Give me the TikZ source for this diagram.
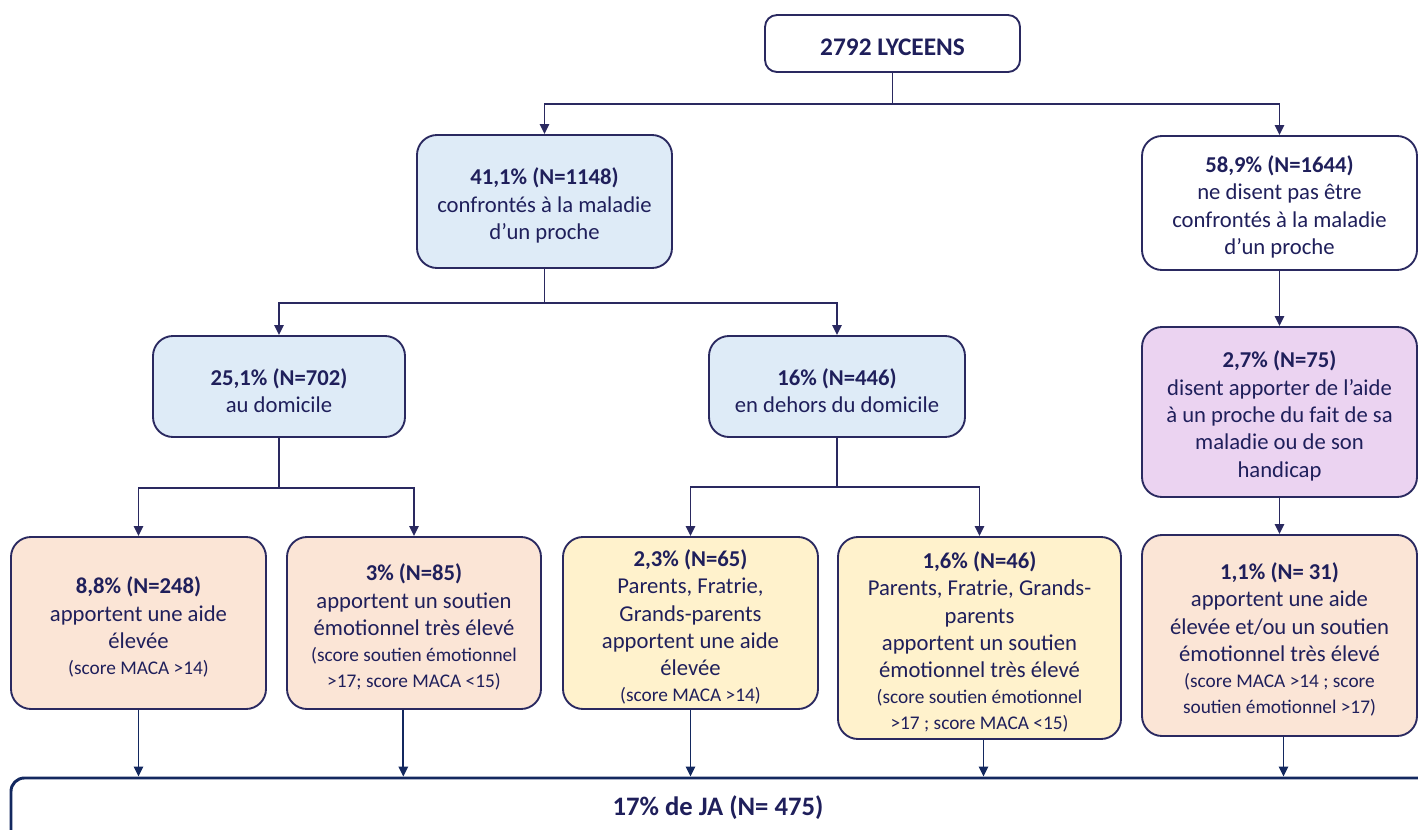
\documentclass[tikz,border=0pt]{standalone}
\usepackage{fontspec}
\setmainfont{Carlito}
\usetikzlibrary{arrows.meta,fit}
\definecolor{navy}{HTML}{2A2960}
\definecolor{txtc}{HTML}{1F1F5B}
\definecolor{arrc}{HTML}{13285F}
\definecolor{fblue}{HTML}{DEEBF7}
\definecolor{fpeach}{HTML}{FBE5D6}
\definecolor{fyellow}{HTML}{FFF2CC}
\definecolor{fpurple}{HTML}{EBD3F1}
\newcommand\smalltxt{\fontsize{14.5}{19.5}\selectfont}
\begin{document}
\begin{tikzpicture}[x=0.75pt,y=-0.75pt,
  box/.style={draw=navy, line width=1.4pt, rounded corners=15pt, inner sep=0pt},
  lbl/.style={align=flush center, inner sep=0pt, text=txtc, yshift=-3pt,
    font=\fontsize{17}{20.5}\selectfont},
  conn/.style={draw=navy, line width=1.4pt, -{Triangle[length=7.5pt,width=7pt]}},
  bconn/.style={draw=arrc, line width=1.4pt, -{Triangle[length=7.5pt,width=7pt]}},
  bluebox/.style={box, fill=fblue},
  peachbox/.style={box, fill=fpeach},
  yellowbox/.style={box, fill=fyellow},
  purplebox/.style={box, fill=fpurple},
  whitebox/.style={box, fill=white}
]
\useasboundingbox (0,0) rectangle (1418,829);

% boxes
\node[whitebox, rounded corners=9pt, fit={(765,15) (1020,72)}] (top) {};
\node[bluebox, fit={(417,135) (672,268)}] (n41) {};
\node[whitebox, fit={(1142,136) (1417,270)}] (n59) {};
\node[bluebox, fit={(153,336) (405,437)}] (n25) {};
\node[bluebox, fit={(709,336) (965,437)}] (n16) {};
\node[purplebox, fit={(1142,327) (1417,497)}] (n27) {};
\node[peachbox, fit={(11,537) (266,709)}] (b88) {};
\node[peachbox, fit={(287,537) (541,709)}] (b3) {};
\node[yellowbox, fit={(563,537) (818,709)}] (b23) {};
\node[yellowbox, fit={(838,537) (1121,739)}] (b16) {};
\node[peachbox, fit={(1142,535) (1417,736)}] (b11) {};

% texts
\node[lbl, text width=185pt, font=\fontsize{19}{23}\selectfont\bfseries] (topt) at (top) {2792 LYCEENS};
\node[lbl, text width=185pt] (n41t) at (n41)
  {\textbf{41,1\% (N=1148)}\\confrontés à la maladie\\d’un proche};
\node[lbl, text width=200pt] (n59t) at (n59)
  {\textbf{58,9\% (N=1644)}\\ne disent pas être\\confrontés à la maladie\\d’un proche};
\node[lbl, text width=185pt] (n25t) at (n25)
  {\textbf{25,1\% (N=702)}\\au domicile};
\node[lbl, text width=185pt] (n16t) at (n16)
  {\textbf{16\% (N=446)}\\en dehors du domicile};
\node[lbl, text width=200pt] (n27t) at (n27)
  {\textbf{2,7\% (N=75)}\\disent apporter de l’aide\\à un proche du fait de sa\\maladie ou de son\\handicap};
\node[lbl, text width=185pt] (b88t) at (b88)
  {\textbf{8,8\% (N=248)}\\apportent une aide\\élevée\par\smalltxt (score MACA >14)\par};
\node[lbl, text width=185pt] (b3t) at (b3)
  {\textbf{3\% (N=85)}\\apportent un soutien\\émotionnel très élevé\par\smalltxt (score soutien émotionnel\\>17; score MACA <15)\par};
\node[lbl, text width=185pt] (b23t) at (b23)
  {\textbf{2,3\% (N=65)}\\Parents, Fratrie,\\Grands-parents\\apportent une aide\\élevée\par\smalltxt (score MACA >14)\par};
\node[lbl, text width=205pt] (b16t) at (b16)
  {\textbf{1,6\% (N=46)}\\Parents, Fratrie, Grands-\\parents\\apportent un soutien\\émotionnel très élevé\par\smalltxt (score soutien émotionnel\\>17 ; score MACA <15)\par};
\node[lbl, text width=200pt] (b11t) at (b11)
  {\textbf{1,1\% (N= 31)}\\apportent une aide\\élevée et/ou un soutien\\émotionnel très élevé\par\smalltxt (score MACA >14 ; score\\soutien émotionnel >17)\par};

% bottom box
\begin{scope}
  \clip (0,0) rectangle (1418,829);
  \node[draw=arrc, line width=2.2pt, rounded corners=10pt, inner sep=0pt, fit={(11,778) (1460,900)}] (big) {};
\end{scope}
\node[text=txtc, inner sep=0pt, font=\fontsize{20}{24}\selectfont\bfseries] (ja) at (718,808) {17\% de JA (N= 475)};

% connectors
\draw[conn] (top.south) -- ++(0,31) -| (n41.north);
\draw[conn] (top.south) -- ++(0,31) -| (n59.north);
\draw[conn] (n41.south) -- ++(0,34) -| (n25.north);
\draw[conn] (n41.south) -- ++(0,34) -| (n16.north);
\draw[conn] (n25.south) -- ++(0,50) -| (b88.north);
\draw[conn] (n25.south) -- ++(0,50) -| (b3.north);
\draw[conn] (n16.south) -- ++(0,49) -| (b23.north);
\draw[conn] (n16.south) -- ++(0,49) -| (b16.north);
\draw[conn] (n59.south) -- (n27.north);
\draw[conn] (n27.south) -- (b11.north);
\draw[bconn] (b88.south) -- (b88.south |- big.north);
\draw[bconn] ([xshift=-8pt]b3.south) -- ([xshift=-8pt]b3.south |- big.north);
\draw[bconn] (b23.south) -- (b23.south |- big.north);
\draw[bconn] ([xshift=3pt]b16.south) -- ([xshift=3pt]b16.south |- big.north);
\draw[bconn] ([xshift=3pt]b11.south) -- ([xshift=3pt]b11.south |- big.north);
\end{tikzpicture}
\end{document}
